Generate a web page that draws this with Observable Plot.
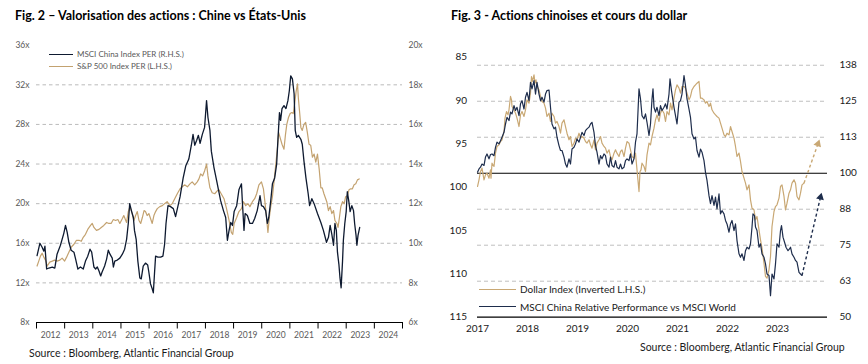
<!DOCTYPE html>
<html><head><meta charset="utf-8">
<script src="https://cdn.jsdelivr.net/npm/d3@7"></script>
<script src="https://cdn.jsdelivr.net/npm/@observablehq/plot@0.6"></script>
<style>
html,body{margin:0;padding:0;background:#fff;}
#wrap{position:relative;width:868px;height:364px;overflow:hidden;font-family:Lato,"Open Sans",sans-serif;font-variant-ligatures:none;}
#wrap svg{font-variant-ligatures:none;}
.abs{position:absolute;white-space:nowrap;line-height:1;}
.title{font-weight:bold;font-size:12.5px;color:#000;}
.src{font-size:10.5px;color:#1a1a1a;}
.leg1{font-size:8px;color:#595959;}
.leg2{font-size:10px;color:#1a1a1a;}
.sw{position:absolute;height:0;}
</style></head><body>
<div id="wrap"></div>
<script>
// ---------- Fig. 2 data ----------
const fig2Title = "Fig. 2 – Valorisation des actions : Chine vs États-Unis";
const fig2Source = "Source : Bloomberg, Atlantic Financial Group";
const msciLabel = "MSCI China Index PER (R.H.S.)";
const spLabel = "S&P 500 Index PER (L.H.S.)";
const fig2LeftTicks = [8, 12, 16, 20, 24, 28, 32, 36];
const fig2RightTicks = [6, 8, 10, 12, 14, 16, 18, 20];
const fig2Years = [2012, 2013, 2014, 2015, 2016, 2017, 2018, 2019, 2020, 2021, 2022, 2023, 2024];
const msciChinaYear = [2012.02,2012.12,2012.20,2012.26,2012.30,2012.36,2012.44,2012.56,2012.65,2012.73,2012.85,2012.97,2013.03,2013.09,2013.15,2013.23,2013.33,2013.39,2013.47,2013.56,2013.66,2013.74,2013.82,2013.90,2013.96,2014.04,2014.10,2014.16,2014.22,2014.28,2014.33,2014.42,2014.49,2014.55,2014.61,2014.69,2014.73,2014.78,2014.87,2014.96,2015.05,2015.13,2015.20,2015.26,2015.31,2015.38,2015.44,2015.48,2015.54,2015.60,2015.67,2015.72,2015.79,2015.87,2015.95,2015.99,2016.05,2016.11,2016.15,2016.19,2016.23,2016.31,2016.41,2016.49,2016.55,2016.60,2016.67,2016.76,2016.86,2016.94,2017.02,2017.10,2017.21,2017.30,2017.41,2017.50,2017.56,2017.62,2017.69,2017.75,2017.81,2017.89,2017.97,2018.04,2018.09,2018.16,2018.21,2018.30,2018.40,2018.54,2018.64,2018.72,2018.78,2018.84,2018.90,2018.96,2019.02,2019.11,2019.19,2019.28,2019.31,2019.37,2019.41,2019.49,2019.58,2019.67,2019.75,2019.84,2019.94,2019.99,2020.06,2020.14,2020.20,2020.25,2020.32,2020.38,2020.46,2020.53,2020.58,2020.63,2020.67,2020.72,2020.79,2020.86,2020.93,2020.98,2021.03,2021.09,2021.15,2021.19,2021.24,2021.30,2021.39,2021.44,2021.50,2021.57,2021.65,2021.70,2021.78,2021.86,2021.98,2022.10,2022.19,2022.30,2022.37,2022.43,2022.49,2022.55,2022.60,2022.65,2022.69,2022.74,2022.78,2022.82,2022.87,2022.90,2022.95,2023.00,2023.04,2023.09,2023.14,2023.20,2023.26,2023.30,2023.35,2023.38,2023.42,2023.48];
const msciChinaPER = [9.38,10.0,9.8,9.6,9.85,8.7,8.75,8.8,8.75,9.45,9.9,10.5,10.9,10.55,10.05,9.65,9.55,9.2,8.7,8.8,8.7,9.1,9.35,9.7,9.55,8.8,8.7,8.8,8.6,8.35,8.55,8.85,9.2,9.65,9.45,9.25,8.8,9.1,9.15,9.25,9.45,9.7,10.2,11.0,12.0,11.6,11.3,10.65,10.2,9.1,8.25,8.2,8.85,9.0,8.9,8.55,7.95,7.7,7.5,8.45,9.35,9.3,9.3,9.35,9.95,11.0,11.9,11.85,11.75,11.35,11.85,12.35,13.3,13.9,14.25,14.95,15.5,14.95,15.2,15.45,15.05,15.5,15.85,17.2,16.35,15.7,14.65,13.85,13.15,12.15,11.65,11.3,10.15,10.65,11.05,10.9,11.6,11.9,12.7,13.0,12.15,10.65,11.5,11.4,11.0,11.0,11.25,11.65,12.4,11.9,11.85,11.65,11.0,11.3,12.15,13.0,13.3,14.0,15.35,16.6,16.2,16.8,16.95,16.8,17.2,17.7,18.45,18.3,17.55,15.7,15.35,15.45,15.25,15.0,14.15,13.3,12.5,11.9,12.25,12.0,11.5,11.05,10.65,10.05,10.3,10.9,10.45,9.9,11.0,10.65,9.55,8.95,8.25,7.75,9.1,10.15,11.0,11.6,12.6,12.15,11.6,11.9,11.65,11.0,10.4,9.9,10.4,10.8];
const sp500Year = [2012.02,2012.08,2012.14,2012.20,2012.26,2012.32,2012.38,2012.47,2012.56,2012.64,2012.73,2012.83,2012.91,2013.00,2013.07,2013.15,2013.23,2013.33,2013.42,2013.51,2013.59,2013.66,2013.74,2013.82,2013.92,2013.98,2014.04,2014.13,2014.22,2014.30,2014.39,2014.49,2014.57,2014.65,2014.73,2014.81,2014.89,2014.96,2015.05,2015.10,2015.20,2015.26,2015.32,2015.40,2015.46,2015.52,2015.58,2015.64,2015.70,2015.76,2015.82,2015.87,2015.93,2015.99,2016.05,2016.11,2016.17,2016.23,2016.29,2016.38,2016.47,2016.55,2016.64,2016.74,2016.82,2016.91,2017.00,2017.10,2017.18,2017.26,2017.36,2017.45,2017.53,2017.62,2017.71,2017.77,2017.83,2017.90,2017.97,2018.04,2018.09,2018.16,2018.24,2018.33,2018.42,2018.48,2018.56,2018.66,2018.75,2018.84,2018.92,2018.97,2019.02,2019.11,2019.19,2019.28,2019.35,2019.43,2019.51,2019.58,2019.67,2019.75,2019.82,2019.90,2019.99,2020.06,2020.12,2020.18,2020.22,2020.27,2020.32,2020.38,2020.44,2020.50,2020.56,2020.60,2020.65,2020.72,2020.79,2020.84,2020.89,2020.95,2021.01,2021.07,2021.12,2021.17,2021.22,2021.27,2021.30,2021.35,2021.39,2021.44,2021.50,2021.56,2021.62,2021.68,2021.74,2021.80,2021.86,2021.92,2021.98,2022.04,2022.10,2022.15,2022.21,2022.31,2022.37,2022.43,2022.49,2022.55,2022.60,2022.67,2022.71,2022.76,2022.81,2022.87,2022.93,2022.98,2023.04,2023.10,2023.16,2023.22,2023.28,2023.34,2023.40,2023.46];
const sp500PER = [13.7,14.2,14.7,15.0,14.6,14.3,13.7,14.1,14.2,14.3,14.2,14.3,14.5,14.2,14.6,15.1,15.6,15.9,16.3,16.3,16.2,16.6,16.9,17.4,17.8,18.0,17.6,17.3,17.4,17.6,17.8,18.1,18.0,18.0,18.4,18.3,18.4,18.0,18.5,18.8,18.1,19.2,19.7,19.0,18.3,18.8,19.2,18.3,18.0,18.6,19.3,19.2,18.8,19.0,18.5,18.0,18.8,19.2,19.5,19.7,19.8,20.0,20.2,19.8,20.0,20.5,21.0,21.5,21.7,21.9,21.7,22.0,22.2,21.9,22.2,22.5,23.0,22.8,23.3,24.0,22.8,21.6,21.1,21.0,21.3,21.4,21.0,20.5,19.5,18.3,17.1,16.9,18.0,18.6,19.2,19.5,20.2,19.8,20.0,19.7,20.2,20.5,21.0,21.9,22.2,21.5,20.0,18.3,17.1,18.6,19.7,20.7,22.3,24.0,25.7,27.2,26.7,26.0,25.5,26.9,28.0,28.7,29.1,29.2,29.1,30.1,31.3,32.1,30.7,29.1,27.7,27.4,28.0,28.2,27.2,26.0,25.9,24.7,25.0,24.2,25.0,23.5,21.6,21.6,21.0,20.2,19.3,19.7,19.0,19.3,18.3,18.0,17.6,18.6,19.7,20.2,20.0,20.7,20.8,21.4,21.5,21.5,21.9,22.0,22.4,22.5];

// ---------- Fig. 3 data ----------
const fig3Title = "Fig. 3 - Actions chinoises et cours du dollar";
const fig3Source = "Source : Bloomberg, Atlantic Financial Group";
const dollarLabel = "Dollar Index (Inverted L.H.S.)";
const chinaLabel = "MSCI China Relative Performance vs MSCI World";
const fig3LeftTicks = [85, 90, 95, 100, 105, 110, 115];
const fig3RightTicks = [50, 62.5, 75, 87.5, 100, 112.5, 125, 137.5];
const fig3RightLabels = ["50", "63", "75", "88", "100", "113", "125", "138"];
const fig3RightDomain = [50, 140.3];
const fig3Years = [2017, 2018, 2019, 2020, 2021, 2022, 2023];
const dollarYear = [2017.00,2017.03,2017.06,2017.09,2017.13,2017.16,2017.19,2017.23,2017.26,2017.27,2017.29,2017.33,2017.36,2017.39,2017.43,2017.46,2017.49,2017.53,2017.55,2017.58,2017.61,2017.63,2017.66,2017.68,2017.69,2017.73,2017.76,2017.79,2017.83,2017.86,2017.89,2017.93,2017.96,2017.99,2018.03,2018.06,2018.08,2018.10,2018.13,2018.15,2018.17,2018.19,2018.23,2018.26,2018.29,2018.33,2018.36,2018.39,2018.43,2018.46,2018.49,2018.53,2018.56,2018.59,2018.63,2018.66,2018.69,2018.73,2018.76,2018.79,2018.83,2018.86,2018.89,2018.93,2018.96,2018.99,2019.03,2019.06,2019.09,2019.13,2019.16,2019.19,2019.23,2019.26,2019.29,2019.33,2019.36,2019.39,2019.43,2019.46,2019.49,2019.53,2019.56,2019.59,2019.63,2019.66,2019.69,2019.73,2019.76,2019.79,2019.83,2019.86,2019.89,2019.93,2019.96,2019.99,2020.03,2020.06,2020.09,2020.13,2020.16,2020.19,2020.23,2020.25,2020.27,2020.29,2020.33,2020.36,2020.39,2020.43,2020.46,2020.49,2020.53,2020.56,2020.59,2020.63,2020.66,2020.69,2020.73,2020.76,2020.79,2020.83,2020.86,2020.89,2020.93,2020.96,2020.99,2021.03,2021.06,2021.09,2021.13,2021.16,2021.19,2021.23,2021.26,2021.29,2021.33,2021.36,2021.39,2021.43,2021.46,2021.49,2021.53,2021.56,2021.59,2021.63,2021.66,2021.69,2021.73,2021.76,2021.79,2021.83,2021.86,2021.89,2021.93,2021.96,2021.99,2022.03,2022.06,2022.09,2022.13,2022.16,2022.19,2022.23,2022.26,2022.29,2022.33,2022.36,2022.39,2022.43,2022.46,2022.49,2022.53,2022.56,2022.59,2022.63,2022.66,2022.69,2022.73,2022.76,2022.79,2022.83,2022.86,2022.89,2022.93,2022.96,2022.99,2023.03,2023.06,2023.09,2023.13,2023.16,2023.19,2023.23,2023.26,2023.29,2023.33,2023.36,2023.39,2023.43,2023.46,2023.49,2023.53];
const dollarIndex = [99.92,99.15,98.19,97.80,99.15,98.57,98.38,98.96,97.99,98.96,97.23,97.61,96.07,95.30,95.11,94.73,94.53,93.57,92.03,91.27,91.65,91.07,89.53,89.92,90.69,91.07,91.46,92.03,93.00,91.65,91.27,91.84,91.07,89.92,90.30,89.15,87.23,87.80,87.03,88.00,87.61,88.38,88.77,89.53,90.11,90.30,90.88,91.84,91.46,92.42,91.46,91.84,92.61,92.42,93.00,93.77,92.61,92.23,93.00,93.77,94.53,94.15,95.30,94.92,94.34,94.53,93.77,94.34,94.15,94.34,94.73,94.92,94.53,95.11,95.50,94.53,95.69,94.92,94.53,94.15,94.92,95.30,95.50,96.07,95.69,96.46,96.84,96.07,95.69,96.07,96.46,95.88,95.69,96.46,95.50,94.73,94.92,95.69,96.46,96.65,96.07,98.00,100.50,98.19,98.00,97.23,97.61,98.19,96.27,94.92,95.11,94.15,93.19,92.23,91.65,92.42,91.46,91.07,91.46,92.42,91.27,91.65,90.30,91.07,89.73,88.77,88.19,88.57,89.15,88.38,88.38,88.57,89.15,89.92,89.53,88.77,88.38,88.19,88.00,87.80,89.73,89.73,89.92,90.30,90.11,90.69,90.30,91.07,91.46,91.65,91.84,92.03,92.61,93.19,93.96,94.15,93.77,93.96,93.00,93.57,94.34,95.30,96.46,96.07,97.03,98.19,98.96,99.53,100.30,99.73,101.46,102.42,102.61,103.77,103.38,104.92,106.07,107.03,108.77,110.30,110.50,109.53,108.00,104.53,102.80,102.23,102.03,101.26,99.92,99.73,101.07,102.61,101.84,100.69,100.30,99.53,99.15,99.53,101.07,101.46,100.69,99.73,99.53];
const chinaRelYear = [2017.00,2017.03,2017.06,2017.09,2017.13,2017.16,2017.19,2017.23,2017.26,2017.29,2017.33,2017.36,2017.39,2017.43,2017.46,2017.49,2017.53,2017.56,2017.59,2017.63,2017.66,2017.69,2017.73,2017.76,2017.79,2017.83,2017.86,2017.89,2017.93,2017.96,2017.99,2018.03,2018.06,2018.09,2018.13,2018.16,2018.19,2018.23,2018.26,2018.29,2018.33,2018.36,2018.39,2018.43,2018.46,2018.49,2018.53,2018.56,2018.59,2018.63,2018.66,2018.69,2018.73,2018.76,2018.79,2018.83,2018.86,2018.89,2018.93,2018.96,2018.99,2019.03,2019.06,2019.09,2019.13,2019.16,2019.19,2019.23,2019.26,2019.29,2019.33,2019.36,2019.39,2019.43,2019.46,2019.49,2019.53,2019.56,2019.59,2019.63,2019.66,2019.69,2019.73,2019.76,2019.79,2019.83,2019.86,2019.89,2019.93,2019.96,2019.99,2020.03,2020.06,2020.09,2020.13,2020.16,2020.19,2020.23,2020.26,2020.29,2020.33,2020.36,2020.39,2020.43,2020.46,2020.49,2020.51,2020.53,2020.56,2020.59,2020.63,2020.66,2020.69,2020.73,2020.76,2020.79,2020.83,2020.85,2020.88,2020.91,2020.93,2020.96,2020.99,2021.03,2021.06,2021.09,2021.13,2021.16,2021.19,2021.23,2021.26,2021.29,2021.33,2021.36,2021.39,2021.43,2021.46,2021.49,2021.53,2021.56,2021.59,2021.63,2021.66,2021.69,2021.73,2021.76,2021.79,2021.83,2021.86,2021.89,2021.93,2021.96,2021.99,2022.03,2022.06,2022.09,2022.13,2022.16,2022.19,2022.23,2022.26,2022.29,2022.33,2022.36,2022.39,2022.43,2022.46,2022.49,2022.51,2022.54,2022.56,2022.59,2022.63,2022.66,2022.69,2022.73,2022.76,2022.79,2022.83,2022.86,2022.89,2022.93,2022.96,2022.99,2023.03,2023.06,2023.08,2023.11,2023.15,2023.17,2023.21,2023.24,2023.26,2023.29,2023.33,2023.36,2023.39,2023.43,2023.46,2023.49];
const chinaRelPerf = [100.35,101.5,102.1,103.2,102.7,105.6,106.7,105.0,106.5,106.7,106.1,109.0,110.8,110.2,111.3,112.5,114.2,117.1,119.4,118.3,121.2,120.6,123.5,121.8,122.9,120.0,124.1,125.2,122.3,126.4,128.1,125.2,131.6,129.3,132.2,127.5,131.6,127.5,125.2,126.4,124.7,127.5,128.7,128.9,122.9,117.1,115.4,116.0,112.5,109.6,107.9,107.9,105.6,103.2,102.1,105.0,103.2,108.4,109.0,110.2,111.9,110.8,112.5,114.2,113.1,114.8,115.4,116.0,117.1,117.7,114.2,109.6,107.3,103.2,106.1,105.0,106.7,106.1,103.2,102.1,105.6,102.7,102.1,104.4,102.1,101.5,103.2,101.5,102.1,104.4,105.0,104.4,106.7,103.2,105.0,110.8,113.7,129.3,125.8,120.0,118.9,120.6,117.7,113.1,117.1,125.8,129.3,122.9,121.2,122.9,120.0,123.5,121.8,122.9,124.1,122.3,127.5,132.8,128.7,125.2,122.9,120.0,117.1,124.7,125.2,127.5,133.9,130.4,125.8,122.3,119.4,113.7,111.9,112.5,107.9,105.6,108.4,107.3,104.4,100.3,97.5,92.2,89.4,92.2,88.8,91.7,87.6,92.8,85.9,87.0,85.9,83.6,82.4,79.5,82.4,83.6,80.1,82.4,76.6,72.0,70.8,72.0,69.7,73.1,74.3,73.7,75.5,81.3,85.9,85.3,81.3,80.1,74.3,75.5,72.0,70.8,68.5,65.0,64.5,57.5,65.0,63.3,68.5,75.5,74.3,80.1,81.8,77.8,75.5,74.3,73.1,73.7,74.3,72.0,70.8,69.7,69.1,65.6,65.0,64.5];
const dollarArrowEnd = [2023.81, 95.0];
const chinaArrowEnd = [2023.86, 91.7];

// ---------- colours ----------
const tan = "#c3a270";
const tan3 = "#c9a874";
const navy1 = "#0e1a30";
const navy3 = "#1e2d4c";

// ---------- helpers ----------
const wrap = document.getElementById("wrap");
function addText(cls, txt, left, top) {
  const d = document.createElement("div");
  d.className = "abs " + cls;
  d.textContent = txt;
  d.style.left = left + "px";
  d.style.top = top + "px";
  wrap.appendChild(d);
  return d;
}
function addSwatch(color, left, top, w, lw) {
  const d = document.createElement("div");
  d.className = "sw";
  d.style.left = left + "px";
  d.style.top = top + "px";
  d.style.width = w + "px";
  d.style.borderTop = lw + "px solid " + color;
  wrap.appendChild(d);
}
const rows = (xs, ys, f = v => v) => xs.map((x, i) => ({x, y: f(ys[i])}));

// ---------- Fig. 2 ----------
const l0 = fig2LeftTicks[0], l1 = fig2LeftTicks[fig2LeftTicks.length - 1];
const r0 = fig2RightTicks[0], r1 = fig2RightTicks[fig2RightTicks.length - 1];
const r2l = r => l0 + (r - r0) * (l1 - l0) / (r1 - r0);
const l2r = l => r0 + (l - l0) * (r1 - r0) / (l1 - l0);
const yearEdges = fig2Years.concat([fig2Years[fig2Years.length - 1] + 1]);

const fig2 = Plot.plot({
  width: 434, height: 316,
  marginLeft: 36, marginRight: 32, marginTop: 14.7, marginBottom: 24,
  style: {fontFamily: "Lato, sans-serif", fontSize: "8.5px", color: "#595959", background: "transparent", overflow: "visible"},
  x: {domain: [yearEdges[0], yearEdges[yearEdges.length - 1]], label: null},
  y: {domain: [l0, l1], label: null},
  marks: [
    Plot.ruleY(fig2LeftTicks.slice(1, -1), {stroke: "#b3b3b3", strokeDasharray: "3.5,3", strokeWidth: 0.9}),
    Plot.ruleY([l0], {stroke: "#000", strokeWidth: 1}),
    Plot.axisX({ticks: yearEdges, tickSize: 6.5, tickFormat: () => "", stroke: "#000", label: null}),
    Plot.axisX({ticks: fig2Years.map(y => y + 0.5), tickSize: 0, tickPadding: 9, tickFormat: d => String(Math.floor(d)), label: null}),
    Plot.axisY({ticks: fig2LeftTicks, tickSize: 0, tickPadding: 7, tickFormat: d => d + "x", label: null}),
    Plot.axisY({ticks: fig2LeftTicks, anchor: "right", tickSize: 0, tickPadding: 6, tickFormat: d => Math.round(l2r(d)) + "x", label: null}),
    Plot.line(rows(sp500Year, sp500PER), {x: "x", y: "y", stroke: tan, strokeWidth: 1.2}),
    Plot.line(rows(msciChinaYear, msciChinaPER, r2l), {x: "x", y: "y", stroke: navy1, strokeWidth: 1.3})
  ]
});
fig2.style.position = "absolute";
fig2.style.left = "0px";
fig2.style.top = "30px";
wrap.appendChild(fig2);

addText("title", fig2Title, 15, 10.4);
addSwatch(navy1, 49, 53.5, 24, 1.2);
addText("leg1", msciLabel, 77, 50.3);
addSwatch(tan, 49, 65.5, 24, 1.2);
addText("leg1", spLabel, 77, 62);
addText("src", fig2Source, 29, 347.5);

// ---------- Fig. 3 ----------
const L0 = fig3LeftTicks[fig3LeftTicks.length - 1], L1 = fig3LeftTicks[0]; // 115 bottom, 85 top
const R0 = fig3RightDomain[0], R1 = fig3RightDomain[1];
const R2L = r => L0 + (r - R0) * (L1 - L0) / (R1 - R0);
const rightLabelMap = new Map(fig3RightTicks.map((r, i) => [R2L(r), fig3RightLabels[i]]));

const W3 = 434, H3 = 300, mL3 = 43, mR3 = 41, mT3 = 16.7, mB3 = 23.3;
const xDom3 = [fig3Years[0], fig3Years[fig3Years.length - 1] + 1];
const xs3 = Plot.scale({x: {domain: xDom3, range: [mL3, W3 - mR3]}});
const ys3 = Plot.scale({y: {domain: [L0, L1], range: [H3 - mB3, mT3]}});

const dStart = [dollarYear[dollarYear.length - 1], dollarIndex[dollarIndex.length - 1]];
const cStart = [chinaRelYear[chinaRelYear.length - 1], R2L(chinaRelPerf[chinaRelPerf.length - 1])];
const dEnd = [dollarArrowEnd[0], dollarArrowEnd[1]];
const cEnd = [chinaArrowEnd[0], R2L(chinaArrowEnd[1])];
function angle(a, b) {
  const dx = xs3.apply(b[0]) - xs3.apply(a[0]);
  const dy = ys3.apply(b[1]) - ys3.apply(a[1]);
  return Math.atan2(dx, -dy) * 180 / Math.PI;
}
const arrows = [
  {x1: dStart[0], y1: dStart[1], x2: dEnd[0], y2: dEnd[1], c: tan3, a: angle(dStart, dEnd)},
  {x1: cStart[0], y1: cStart[1], x2: cEnd[0], y2: cEnd[1], c: navy3, a: angle(cStart, cEnd)}
];

const fig3 = Plot.plot({
  width: W3, height: H3,
  marginLeft: mL3, marginRight: mR3, marginTop: mT3, marginBottom: mB3,
  style: {fontFamily: "Lato, sans-serif", fontSize: "10px", color: "#1a1a1a", background: "transparent", overflow: "visible"},
  x: {domain: xDom3, label: null},
  y: {domain: [L0, L1], label: null},
  marks: [
    Plot.ruleY(fig3RightTicks.filter(r => r !== 100 && r !== R0).map(R2L), {stroke: "#b8b8b8", strokeDasharray: "4,3", strokeWidth: 0.9}),
    Plot.ruleY([R2L(100)], {stroke: "#000", strokeWidth: 1.2}),
    Plot.ruleY([R2L(R0)], {stroke: "#000", strokeWidth: 1.2}),
    Plot.axisY({ticks: fig3LeftTicks, tickSize: 0, tickPadding: 10.5, label: null}),
    Plot.axisY({ticks: fig3RightTicks.map(R2L), anchor: "right", tickSize: 0, tickPadding: 12, tickFormat: d => rightLabelMap.get(d), label: null}),
    Plot.axisX({ticks: fig3Years, tickSize: 0, tickPadding: 8, tickFormat: d => String(d), label: null}),
    Plot.line(rows(dollarYear, dollarIndex), {x: "x", y: "y", stroke: tan3, strokeWidth: 1.2}),
    Plot.line(rows(chinaRelYear, chinaRelPerf, R2L), {x: "x", y: "y", stroke: navy3, strokeWidth: 1.2}),
    Plot.link(arrows, {x1: "x1", y1: "y1", x2: "x2", y2: "y2", stroke: d => d.c, strokeWidth: 1.4, strokeDasharray: "3,2.5"}),
    Plot.dot(arrows, {x: "x2", y: "y2", symbol: "triangle2", r: 3.8, fill: d => d.c, stroke: "none", rotate: d => d.a})
  ]
});
fig3.style.position = "absolute";
fig3.style.left = "434px";
fig3.style.top = "40px";
wrap.appendChild(fig3);

addText("title", fig3Title, 451, 10.4);
addSwatch(tan3, 479, 288.5, 37, 1.2);
addText("leg2", dollarLabel, 520, 284);
addSwatch(navy3, 479, 306.2, 37, 1.2);
addText("leg2", chinaLabel, 520, 301.7);
addText("src", fig3Source, 640, 342);
</script>
</body></html>
